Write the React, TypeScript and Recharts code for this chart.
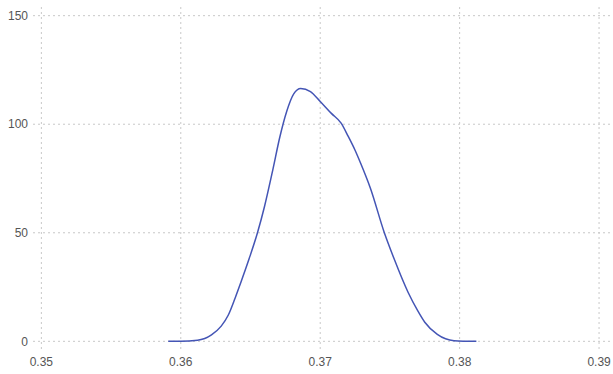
import { LineChart, Line, XAxis, YAxis, CartesianGrid } from "recharts";

// density estimate
const xValues = [
  0.3591, 0.36, 0.3612, 0.3622, 0.3629, 0.3634, 0.3639, 0.3643, 0.3649, 0.3655,
  0.366, 0.3666, 0.3671, 0.3676, 0.3681, 0.3686, 0.3693, 0.37, 0.3708, 0.3715,
  0.372, 0.3725, 0.3729, 0.3736, 0.3746, 0.3753, 0.3763, 0.377, 0.3775, 0.3784,
  0.3796, 0.3812,
];
const densities = [
  0, 0, 0.5, 3, 7, 12, 20, 27, 38, 50,
  62, 79, 94, 106, 114, 116.5, 115, 110.5, 105, 100.5,
  94.5, 88, 82, 70.5, 50, 38, 22.6, 14, 8.8, 3.2,
  0.3, 0,
];
const xTicks = [0.35, 0.36, 0.37, 0.38, 0.39];
const yTicks = [0, 50, 100, 150];

const data = xValues.map((x, i) => ({ x, y: densities[i] }));

const tickStyle = { fill: "#555", fontSize: 12, fontFamily: "Liberation Sans, Arial, sans-serif" };

export default function App() {
  return (
    <div style={{ position: "absolute", left: 0, top: 0, background: "#fff" }}>
      <LineChart
        width={613}
        height={374}
        data={data}
        margin={{ top: 7, right: 0, left: 0, bottom: 0 }}
      >
        <CartesianGrid stroke="#c8c8c8" strokeDasharray="2 3" syncWithTicks />
        <XAxis
          dataKey="x"
          type="number"
          domain={[0.3494, 0.391]}
          ticks={xTicks}
          allowDataOverflow
          tickFormatter={(v: number) => v.toFixed(2)}
          axisLine={false}
          tickLine={false}
          tickSize={0}
          tickMargin={7}
          height={24}
          tick={tickStyle}
        />
        <YAxis
          type="number"
          domain={[-4, 154]}
          ticks={yTicks}
          allowDataOverflow
          axisLine={false}
          tickLine={false}
          tickSize={0}
          tickMargin={5}
          width={33}
          tick={tickStyle}
        />
        <Line
          type="monotone"
          dataKey="y"
          stroke="#4455b5"
          strokeWidth={1.5}
          dot={false}
          isAnimationActive={false}
        />
      </LineChart>
    </div>
  );
}
